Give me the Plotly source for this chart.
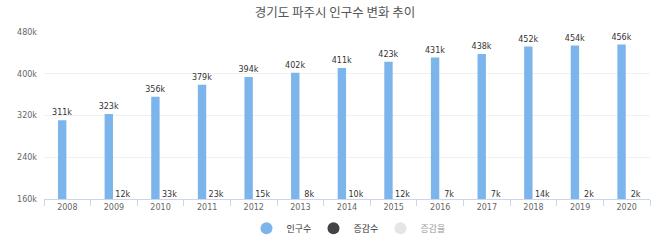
import plotly.graph_objects as go

years = ["2008", "2009", "2010", "2011", "2012", "2013", "2014",
         "2015", "2016", "2017", "2018", "2019", "2020"]
population = [311000, 323000, 356000, 379000, 394000, 402000, 411000,
              423000, 431000, 438000, 452000, 454000, 456000]
change = [None, 12000, 33000, 23000, 15000, 8000, 10000,
          12000, 7000, 7000, 14000, 2000, 2000]
y_ticks = [160000, 240000, 320000, 400000, 480000]

def fmt_k(v):
    return "" if v is None else f"{round(v / 1000)}k"

xs = list(range(len(years)))
FONT = "DejaVu Sans, Noto Sans CJK KR, sans-serif"
KFONT = "Noto Sans CJK KR, DejaVu Sans, sans-serif"

fig = go.Figure()
fig.add_trace(go.Bar(
    x=xs, y=population, width=0.18, offset=-0.2,
    marker=dict(color="#7cb5ec", line=dict(width=0)),
    text=[fmt_k(v) for v in population], textposition="outside",
    constraintext="none",
    outsidetextfont=dict(size=8, color="#333333", family=FONT),
    cliponaxis=False, showlegend=False, name="인구수",
))
fig.add_trace(go.Bar(
    x=xs, y=change, width=0.18, offset=0.1,
    marker=dict(color="#434348"), showlegend=False, name="증감수",
))
fig.add_trace(go.Scatter(
    x=[x + 0.19 for x in xs], y=[y_ticks[0]] * len(xs),
    mode="text", text=[fmt_k(v) for v in change], textposition="top center",
    textfont=dict(size=8, color="#333333", family=FONT),
    showlegend=False, cliponaxis=False, hoverinfo="skip",
))
# legend entries
fig.add_trace(go.Scatter(x=[None], y=[None], mode="markers", name="인구수",
                         marker=dict(color="#7cb5ec", size=8, symbol="circle")))
fig.add_trace(go.Scatter(x=[None], y=[None], mode="markers", name="증감수",
                         marker=dict(color="#434348", size=8, symbol="circle")))
fig.add_trace(go.Scatter(x=[None], y=[None], mode="markers", name="증감율",
                         marker=dict(color="#cccccc", size=8, symbol="circle"),
                         visible="legendonly"))

fig.update_layout(
    width=670, height=248,
    margin=dict(l=44, r=20, t=32, b=49, autoexpand=False),
    paper_bgcolor="white", plot_bgcolor="white",
    title=dict(text="경기도 파주시 인구수 변화 추이", x=0.5, xanchor="center",
               y=0.95, yanchor="middle",
               font=dict(size=12.5, color="#555555", family=KFONT)),
    xaxis=dict(
        range=[-0.5, len(years) - 0.5], tickvals=xs, ticktext=years,
        showgrid=False, zeroline=False, showline=True, linecolor="#ccd6eb",
        linewidth=1, ticks="", tickfont=dict(size=8, color="#666666", family=FONT),
        minor=dict(tickmode="linear", tick0=-0.5, dtick=1, ticks="outside",
                   ticklen=6, tickcolor="#ccd6eb", showgrid=False),
    ),
    yaxis=dict(
        range=[y_ticks[0], y_ticks[-1]], tickvals=y_ticks,
        ticktext=[fmt_k(v) for v in y_ticks],
        showgrid=True, gridcolor="#eef0f3", zeroline=False, showline=False,
        tickfont=dict(size=8, color="#666666", family=FONT), ticklabelstandoff=6,
    ),
    barmode="overlay",
    legend=dict(orientation="h", x=0.5, xanchor="center",
                yref="container", y=0.08, yanchor="middle",
                font=dict(size=9, color="#333333", family=KFONT),
                itemsizing="constant", itemwidth=30, traceorder="normal",
                entrywidth=22, entrywidthmode="pixels"),
)

fig.write_html("out.html")
